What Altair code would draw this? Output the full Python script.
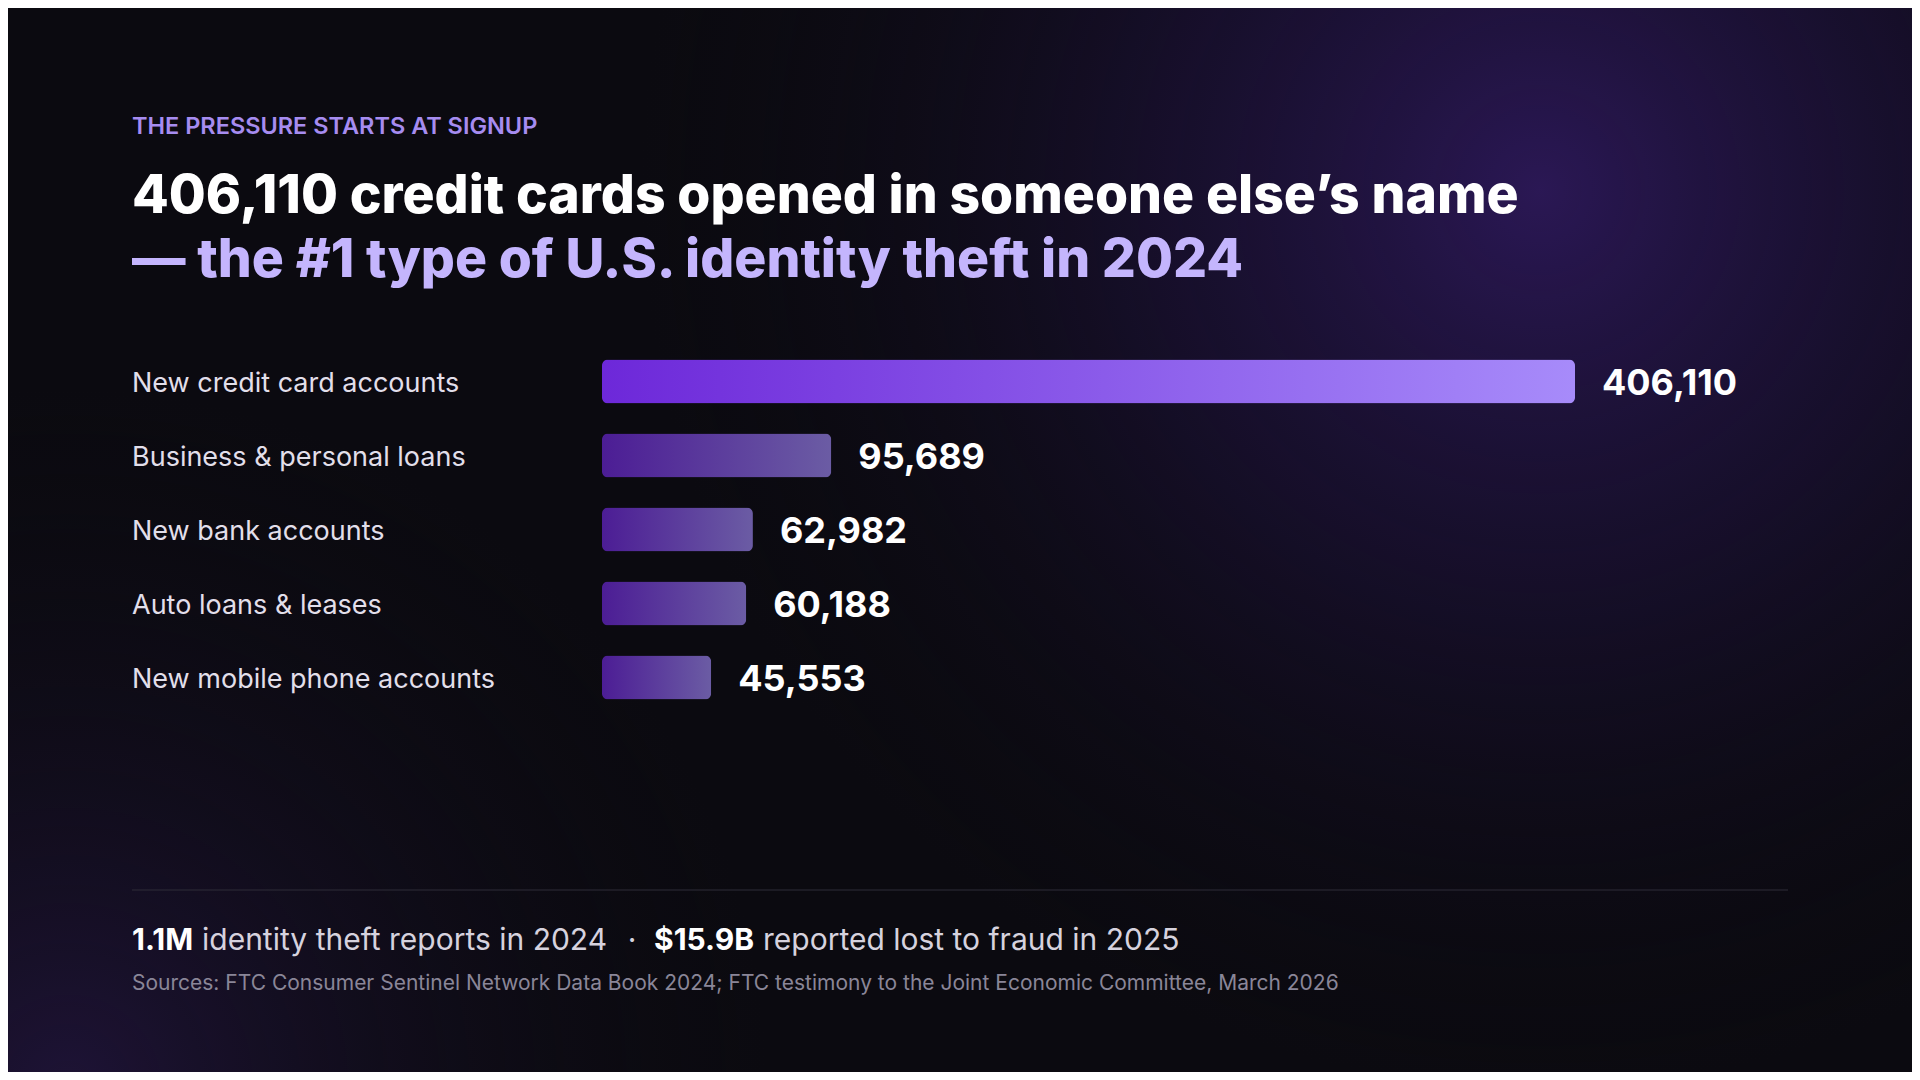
import altair as alt
import pandas as pd

# ---------------- data ----------------
categories = [
    "New credit card accounts",
    "Business & personal loans",
    "New bank accounts",
    "Auto loans & leases",
    "New mobile phone accounts",
]
values = [406110, 95689, 62982, 60188, 45553]
value_labels = ["406,110", "95,689", "62,982", "60,188", "45,553"]

kicker = "THE PRESSURE STARTS AT SIGNUP"
title_line1 = "406,110 credit cards opened in someone else\u2019s name"
title_line2 = "\u2014 the #1 type of U.S. identity theft in 2024"
stat1_bold = "1.1M"
stat1_text = "identity theft reports in 2024"
stat_sep = "\u00b7"
stat2_bold = "$15.9B"
stat2_text = "reported lost to fraud in 2025"
sources = ("Sources: FTC Consumer Sentinel Network Data Book 2024; "
           "FTC testimony to the Joint Economic Committee, March 2026")

# ---------------- layout ----------------
W, H = 1904, 1064
FONT = "Inter"
BG = "#0b0a10"

df = pd.DataFrame({
    "category": categories,
    "value": values,
    "label": value_labels,
    "rank": list(range(len(categories))),
})

x_scale = alt.Scale(domain=[0, max(values)], range=[594, 1567], nice=False, zero=True)
y_scale = alt.Scale(range=[336.5, 706.5], paddingInner=30 / 74, paddingOuter=15 / 74)
y_enc = alt.Y("category:N", sort=categories, scale=y_scale, axis=None)
x_enc = alt.X("value:Q", scale=x_scale, axis=None)

one = pd.DataFrame({"a": [0]})


def glow(cx, cy, r, stops):
    return alt.Chart(one).mark_rect(
        color={"gradient": "radial", "x1": 0.5, "y1": 0.5, "r1": 0,
               "x2": 0.5, "y2": 0.5, "r2": 0.5,
               "stops": [{"offset": o, "color": c} for o, c in stops]}
    ).encode(x=alt.value(cx - r), x2=alt.value(cx + r),
             y=alt.value(cy - r), y2=alt.value(cy + r))


def txt(s, x, y, size, weight, color, align="left"):
    return alt.Chart(pd.DataFrame({"t": [s]})).mark_text(
        align=align, baseline="alphabetic", font=FONT, fontSize=size,
        fontWeight=weight, color=color,
    ).encode(x=alt.value(x), y=alt.value(y), text="t:N")


glow_main = glow(1532, 182, 900, [
    (0, "rgba(44,24,88,0.95)"),
    (0.45, "rgba(30,18,60,0.55)"),
    (1, "rgba(11,10,16,0)"),
])
glow_low = glow(60, 1080, 700, [
    (0, "rgba(36,22,66,0.75)"),
    (1, "rgba(11,10,16,0)"),
])

grad_top = {"gradient": "linear", "x1": 0, "y1": 0, "x2": 1, "y2": 0,
            "stops": [{"offset": 0, "color": "#6d28d9"},
                      {"offset": 1, "color": "#a78bfa"}]}
grad_rest = {"gradient": "linear", "x1": 0, "y1": 0, "x2": 1, "y2": 0,
             "stops": [{"offset": 0, "color": "#4c1d95"},
                       {"offset": 1, "color": "#6b5ca4"}]}

base = alt.Chart(df)
bar_top = base.transform_filter("datum.rank == 0").mark_bar(
    cornerRadius=6, color=grad_top).encode(x=x_enc, y=y_enc)
bar_rest = base.transform_filter("datum.rank > 0").mark_bar(
    cornerRadius=6, color=grad_rest).encode(x=x_enc, y=y_enc)

cat_labels = base.mark_text(
    align="left", baseline="middle", dy=2.5, font=FONT, fontSize=27,
    fontWeight=400, color="#e2dfea",
).encode(x=alt.value(124), y=y_enc, text="category:N")

val_labels = base.mark_text(
    align="left", baseline="middle", dx=27, dy=2.5, font=FONT, fontSize=36,
    fontWeight=700, color="#ffffff",
).encode(x=x_enc, y=y_enc, text="label:N")

divider = alt.Chart(one).mark_rule(color="#2f2c39", strokeWidth=1).encode(
    x=alt.value(124), x2=alt.value(1780), y=alt.value(882))

layers = [
    glow_main, glow_low, divider,
    txt(kicker, 124, 126, 23.5, 600, "#a68cf0"),
    txt(title_line1, 124, 205, 53.5, 800, "#ffffff"),
    txt(title_line2, 124, 269, 53.5, 800, "#c4b5fd"),
    bar_top, bar_rest, cat_labels, val_labels,
    txt(stat1_bold, 124, 942, 30, 700, "#ffffff"),
    txt(stat1_text, 194, 942, 30, 400, "#d6d2de"),
    txt(stat_sep, 624, 942, 30, 400, "#d6d2de", align="center"),
    txt(stat2_bold, 646, 942, 30, 700, "#ffffff"),
    txt(stat2_text, 755, 942, 30, 400, "#d6d2de"),
    txt(sources, 124, 982, 21, 400, "#8a8698"),
]

chart = alt.layer(*layers).properties(
    width=W, height=H, padding=0, autosize="none", background=BG,
).configure_view(stroke=None)

chart.save("out.html", embed_options={"renderer": "svg", "actions": False})
